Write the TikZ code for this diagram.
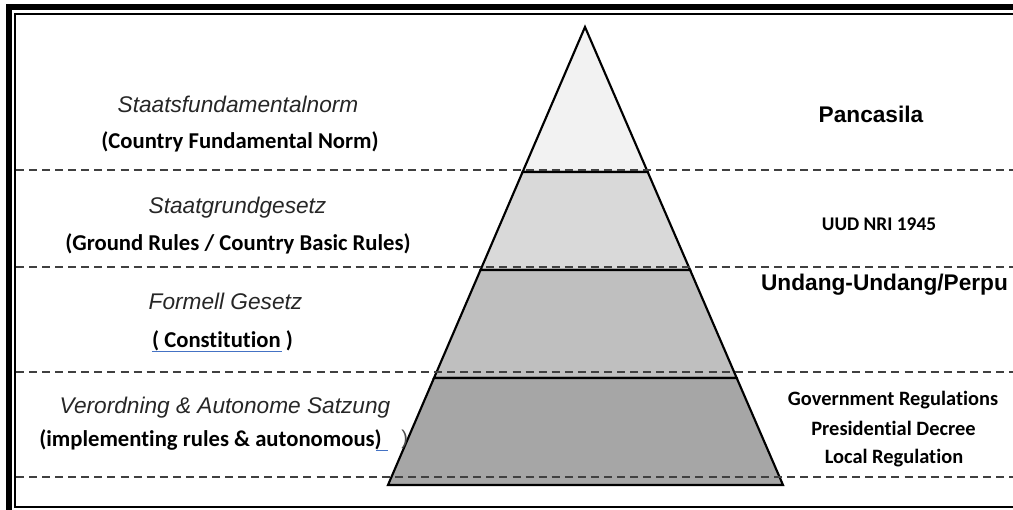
\documentclass[tikz,border=0pt]{standalone}
\usepackage{fontspec}
\setmainfont{Carlito}[Ligatures=NoCommon]
\newfontfamily\arialfont{Liberation Sans}
\usetikzlibrary{positioning}
\definecolor{tierone}{HTML}{F2F2F2}
\definecolor{tiertwo}{HTML}{D9D9D9}
\definecolor{tierthree}{HTML}{BFBFBF}
\definecolor{tierfour}{HTML}{A6A6A6}
\definecolor{linkblue}{HTML}{4472C4}
\tikzset{
    tier/.style={
        draw=black,
        line width=1.6pt,
        line join=miter
    },
    levelline/.style={
        draw=black!75,
        line width=1.5pt,
        dash pattern=on 6pt off 3.8pt
    },
    linkline/.style={
        draw=linkblue,
        line width=0.8pt
    },
    germanterm/.style={
        anchor=base,
        inner sep=0pt,
        text=black!85,
        font=\arialfont\itshape\fontsize{17}{20}\selectfont
    },
    englishterm/.style={
        anchor=base,
        inner sep=0pt,
        font=\bfseries\fontsize{17}{20}\selectfont
    },
    lawname/.style={
        anchor=base,
        inner sep=0pt,
        font=\arialfont\bfseries\fontsize{17}{20}\selectfont
    },
    lawlist/.style={
        anchor=base,
        inner sep=0pt,
        font=\bfseries\fontsize{15.3}{18}\selectfont
    }
}

\begin{document}
\begin{tikzpicture}[x=0.75pt, y=-0.75pt]
                \useasboundingbox (0,0) rectangle (1013,510);

                % pyramid tiers, top to bottom
                \coordinate (apex) at (585,27);
                \filldraw[tier, fill=tierone] (apex) -- (647.7,172) -- (522.6,172) -- cycle;
                \filldraw[tier, fill=tiertwo] (522.6,172) -- (647.7,172) -- (690.1,270) -- (480.5,270) -- cycle;
                \filldraw[tier, fill=tierthree] (480.5,270) -- (690.1,270) -- (736.7,378) -- (434,378) -- cycle;
                \filldraw[tier, fill=tierfour] (434,378) -- (736.7,378) -- (783,485) -- (388,485) -- cycle;

                % dashed level lines
                \foreach \y in {170,267,372,477}
                    \draw[levelline] (16,\y) -- (1013,\y);

                % frame
                \draw[line width=4.5pt] (9,512) -- (9,7) -- (1015,7);
                \draw[line width=1.2pt] (1015,14) -- (15,14) -- (15,507) -- (1015,507);

                % left column
                \node[germanterm] (sfn) at (238,112.5) {Staatsfundamentalnorm};
                \node[englishterm] (cfn) at (240,148) {(Country Fundamental Norm)};
                \node[germanterm] (sgg) at (237.5,213) {Staatgrundgesetz};
                \node[englishterm] (grr) at (238,250) {(Ground Rules / Country Basic Rules)};
                \node[germanterm] (fg) at (225.5,309) {Formell Gesetz};
                \node[englishterm] (con) at (222.5,347.5) {( Constitution )};
                \draw[linkline] (con.base west) ++(0,4) -- ++(130,0);
                \node[germanterm] (vas) at (225,413) {Verordning \& Autonome Satzung};
                \node[englishterm] (irs) at (210.5,446.5) {(implementing rules \& autonomous)};
                \node[anchor=base west, inner sep=0pt, text=black!70,
                      font=\arialfont\fontsize{15}{18}\selectfont] (ibr) at (401,444) {)};
                \draw[linkline] (irs.base east) ++(-6,4) -- ++(12,0);

                % right column
                \node[lawname] (pan) at (871,122) {Pancasila};
                \node[lawlist, font=\bfseries\fontsize{14.5}{17}\selectfont] (uud) at (879,230) {UUD NRI 1945};
                \node[lawname] (uu) at (884.5,290) {Undang-Undang/Perpu};
                \node[lawlist] (gov) at (893,405) {Government Regulations};
                \node[lawlist] (pres) at (893.5,435) {Presidential Decree};
                \node[lawlist] (loc) at (894,463) {Local Regulation};
            \end{tikzpicture}
\end{document}
